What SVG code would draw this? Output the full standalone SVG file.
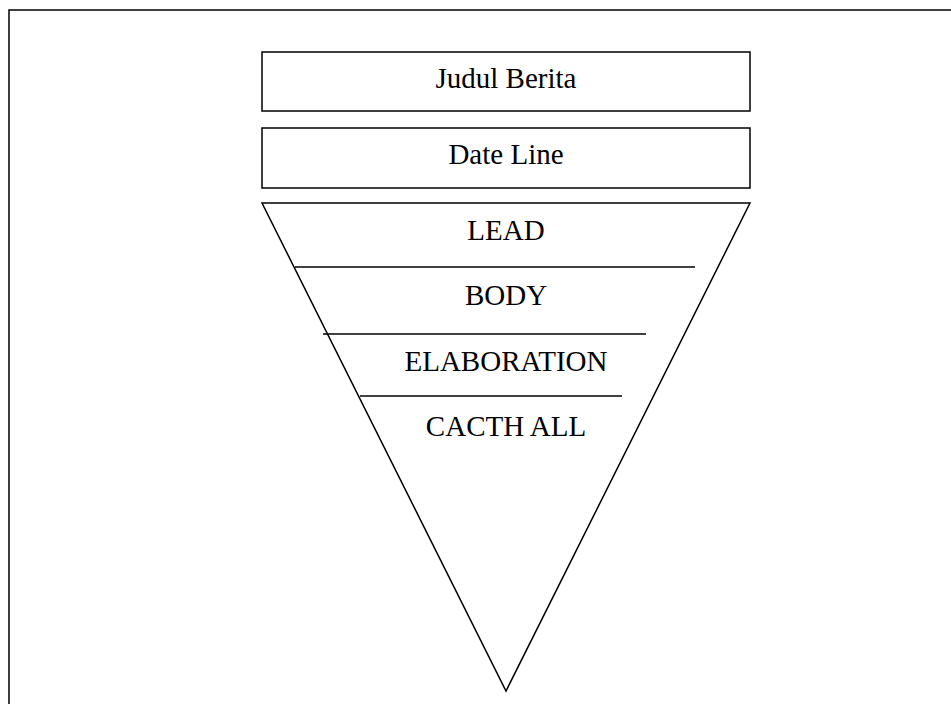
<svg xmlns="http://www.w3.org/2000/svg" width="951" height="704" viewBox="0 0 951 704">
<style>
.s{fill:none;stroke:#000;stroke-width:1.5}
.t{font-family:"Liberation Serif","Times New Roman",serif;font-size:29px;fill:#000;text-anchor:middle}
</style>
<rect width="951" height="704" fill="#fff"/>
<rect id="frame" class="s" x="9" y="10" width="1000" height="1000"/>
<g id="judul"><rect class="s" x="262" y="52" width="488" height="59"/><text class="t" x="506" y="88">Judul Berita</text></g>
<g id="dateline"><rect class="s" x="262" y="128" width="488" height="60"/><text class="t" x="506" y="164">Date Line</text></g>
<g id="pyramid"><polygon class="s" points="262,203 750,203 506,691"/></g>
<g id="connectors">
<line class="s" x1="295" y1="267" x2="695" y2="267"/>
<line class="s" x1="323" y1="334" x2="646" y2="334"/>
<line class="s" x1="360" y1="396" x2="622" y2="396"/>
</g>
<g id="lead"><text class="t" x="506" y="240">LEAD</text></g>
<g id="body"><text class="t" x="506" y="305">BODY</text></g>
<g id="elab"><text class="t" x="506" y="371">ELABORATION</text></g>
<g id="catch"><text class="t" x="506" y="436">CACTH ALL</text></g>
</svg>
